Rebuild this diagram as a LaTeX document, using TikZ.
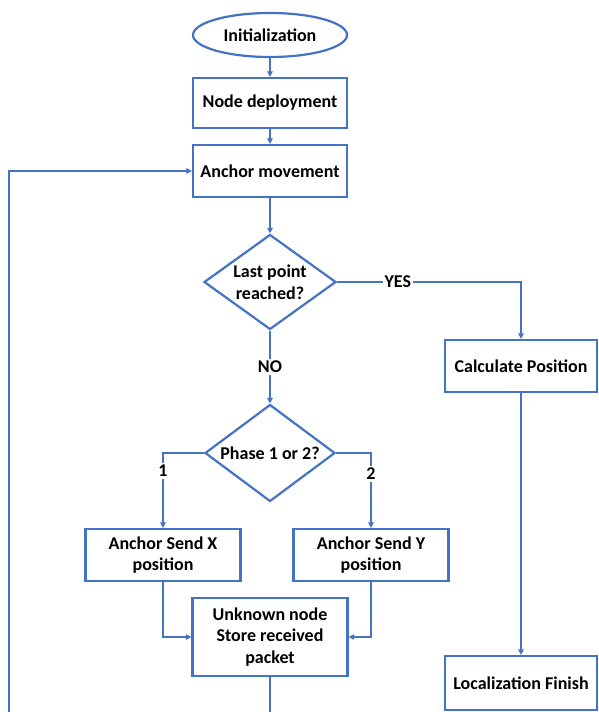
\documentclass[tikz,border=0pt]{standalone}
\usepackage{fontspec}
\setmainfont{Carlito}
\usetikzlibrary{shapes.geometric,arrows.meta}
\definecolor{flowblue}{HTML}{4472C4}
\begin{document}
\begin{tikzpicture}[x=1pt,y=-1pt,
  every node/.style={font=\bfseries\fontsize{18}{21.8}\selectfont, text=black},
  box/.style={draw=flowblue, line width=2.2pt, rectangle, align=center, inner sep=2pt},
  oval/.style={draw=flowblue, line width=2.2pt, ellipse, inner sep=0pt, minimum width=154pt, minimum height=44pt},
  decision/.style={draw=flowblue, line width=2.2pt, diamond, inner sep=0pt},
  conn/.style={draw=flowblue, line width=1.3pt},
  arr/.style={conn, -{Triangle[length=5.5pt,width=5.5pt]}},
  lbl/.style={fill=white, inner sep=2pt}
]
\useasboundingbox (0,0) rectangle (598,712);

\node[oval] (init) at (270,35) {Initialization};
\node[box, minimum width=154pt, minimum height=50pt] (deploy) at (270,103) {Node deployment};
\node[box, minimum width=154pt, minimum height=52pt] (move) at (270,171) {Anchor movement};
\node[decision, minimum width=132pt, minimum height=95pt,
  label={[align=center]center:Last point\\reached?}] (last) at (270,282) {};
\node[box, minimum width=152pt, minimum height=52pt] (calc) at (521,366) {Calculate Position};
\node[decision, minimum width=130pt, minimum height=97pt,
  label={center:Phase 1 or 2?}] (phase) at (270,453) {};
\node[box, minimum width=155pt, minimum height=52pt] (sendx) at (163,555) {Anchor Send X\\position};
\node[box, minimum width=155pt, minimum height=52pt] (sendy) at (371,555) {Anchor Send Y\\position};
\node[box, minimum width=155pt, minimum height=78pt] (unknown) at (270,637) {Unknown node\\Store received\\packet};
\node[box, minimum width=152pt, minimum height=54pt] (finish) at (521,683) {Localization Finish};

\coordinate (bot) at (270,712);
\coordinate (loopb) at (9,712);

\draw[arr] (init.south) -- (deploy.north);
\draw[arr] (deploy.south) -- (move.north);
\draw[arr] (move.south) -- (last.north);
\draw[arr] (last.east) -| node[lbl, pos=0.165] {YES} (calc.north);
\draw[arr] (last.south) -- node[lbl, pos=0.5] {NO} (phase.north);
\draw[arr] (phase.west) -| node[lbl, pos=0.62] {1} (sendx.north);
\draw[arr] (phase.east) -| node[lbl, pos=0.64] {2} (sendy.north);
\draw[arr] (sendx.south) |- (unknown.west);
\draw[arr] (sendy.south) |- (unknown.east);
\draw[arr] (calc.south) -- (finish.north);
\draw[conn] (unknown.south) -- (bot);
\draw[arr] (loopb) |- (move.west);
\end{tikzpicture}
\end{document}
